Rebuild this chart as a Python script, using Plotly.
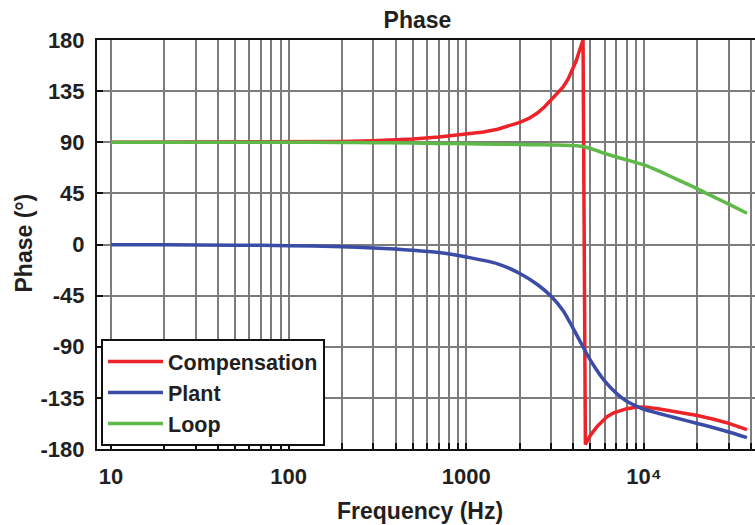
import math
import plotly.graph_objects as go

# Frequency points (Hz) for the plant and loop phase curves
freq = [10, 20, 50, 100, 200, 300, 500, 700, 1000, 1500, 2000, 2500, 3000,
        3500, 4000, 4500, 5000, 5500, 6000, 7000, 8000, 9000, 10000, 12000,
        15000, 20000, 25000, 30000, 38000]

plant_phase = [-0.2, -0.3, -0.6, -1.0, -2.0, -3.0, -5.0, -7.0, -11, -17, -25.5,
               -35, -45.5, -58, -74, -89, -102, -112, -120, -131, -138, -142,
               -145, -148.5, -152.5, -157.5, -161.5, -165, -170]

loop_phase = [90, 90, 90, 90, 89.8, 89.6, 89.3, 89, 88.7, 88.3, 88, 87.8,
              87.6, 87.4, 87.1, 86.3, 84.5, 82.3, 80.2, 77, 74.5, 72.2, 70,
              65, 58, 49, 41.5, 35.5, 27.5]

# Compensation phase wraps from +180 to -180 just above 4.5 kHz
comp_freq = [10, 50, 100, 200, 300, 500, 700, 1000, 1250, 1500, 1750, 2000,
             2250, 2500, 2750, 3000, 3250, 3500, 3750, 4000, 4150, 4300, 4420,
             4540, 4680, 4800, 4950, 5100, 5300, 5500, 5800, 6200, 6700, 7300,
             8000, 9000, 10000, 12000, 15000, 20000, 25000, 30000, 38000]

comp_phase = [90, 90.1, 90.3, 90.7, 91.3, 92.8, 94.6, 97, 99, 101.5, 104.3,
              107.5, 111, 115.5, 121, 127, 132.5, 138.5, 146, 155, 161.5, 169,
              174.5, 180, -176, -172.5, -169, -166, -162.5, -159.5, -156,
              -151.5, -148.5, -146.3, -144.5, -143.2, -143, -144.5, -147,
              -150.5, -154, -157.5, -163]

y_ticks = [-180, -135, -90, -45, 0, 45, 90, 135, 180]
y_tick_labels = ["-180", "-135", "-90", "-45", "0", "45", "90", "135", "180"]
x_tick_labels = {10: "10", 100: "100", 1000: "1000", 10000: "10\u2074"}

# Gridlines at every 1..9 multiple of each decade
grid_vals = [m * 10 ** d for d in range(1, 5) for m in range(1, 10) if m * 10 ** d <= 40000]
grid_text = [x_tick_labels.get(v, "") for v in grid_vals]

FONT = "Liberation Sans, Arial, sans-serif"
TXT = "#231f20"
GRID = "#7c7c7c"

fig = go.Figure()
fig.add_trace(go.Scatter(x=comp_freq, y=comp_phase, mode="lines", name="Compensation",
                         line=dict(color="#ec2329", width=3.5)))
fig.add_trace(go.Scatter(x=freq, y=plant_phase, mode="lines", name="Plant",
                         line=dict(color="#3b4ca6", width=3.5, shape="spline", smoothing=0.8)))
fig.add_trace(go.Scatter(x=freq, y=loop_phase, mode="lines", name="Loop",
                         line=dict(color="#5fb948", width=3.5, shape="spline", smoothing=0.8)))

fig.update_layout(
    width=755, height=525,
    margin=dict(l=97, r=0, t=40, b=76),
    paper_bgcolor="white", plot_bgcolor="white",
    font=dict(family=FONT, color=TXT),
    title=dict(text="Phase", x=(417.5 - 97) / 658, xref="paper", xanchor="center",
               y=1 - 20 / 525, yanchor="middle",
               font=dict(size=23, weight="bold", family=FONT, color=TXT)),
    showlegend=True,
    legend=dict(x=4 / 658, y=(449 - 339) / 409, xanchor="left", yanchor="top",
                bgcolor="white", bordercolor="#111", borderwidth=2,
                font=dict(size=21.5, weight="bold", family=FONT, color=TXT),
                itemwidth=55, tracegroupgap=0),
    xaxis=dict(type="log", range=[math.log10(8.34), 4.625],
               tickmode="array", tickvals=grid_vals, ticktext=grid_text,
               ticks="inside", ticklen=6, tickcolor="#111", tickwidth=1.5,
               showgrid=True, gridcolor=GRID, gridwidth=1.6,
               showline=True, linecolor="#111", linewidth=2, mirror=True,
               zeroline=False, ticklabelstandoff=7,
               tickfont=dict(size=22, weight="bold", family=FONT, color=TXT)),
    yaxis=dict(range=[-180, 180], tickmode="array", tickvals=y_ticks,
               ticktext=y_tick_labels,
               ticks="inside", ticklen=6, tickcolor="#111", tickwidth=1.5,
               showgrid=True, gridcolor=GRID, gridwidth=1.6,
               showline=True, linecolor="#111", linewidth=2, mirror=False,
               zeroline=False, ticklabelstandoff=6,
               tickfont=dict(size=22, weight="bold", family=FONT, color=TXT)),
    annotations=[
        dict(text="Frequency (Hz)", xref="paper", yref="paper",
             x=(419.5 - 97) / 658, y=(449 - 511) / 409, xanchor="center", yanchor="middle",
             showarrow=False, font=dict(size=23, weight="bold", family=FONT, color=TXT)),
        dict(text="Phase (\u00b0)", xref="paper", yref="paper", textangle=-90,
             x=(23 - 97) / 658, y=(449 - 243.5) / 409, xanchor="center", yanchor="middle",
             showarrow=False, font=dict(size=23, weight="bold", family=FONT, color=TXT)),
    ],
)

fig.write_html("out.html")
